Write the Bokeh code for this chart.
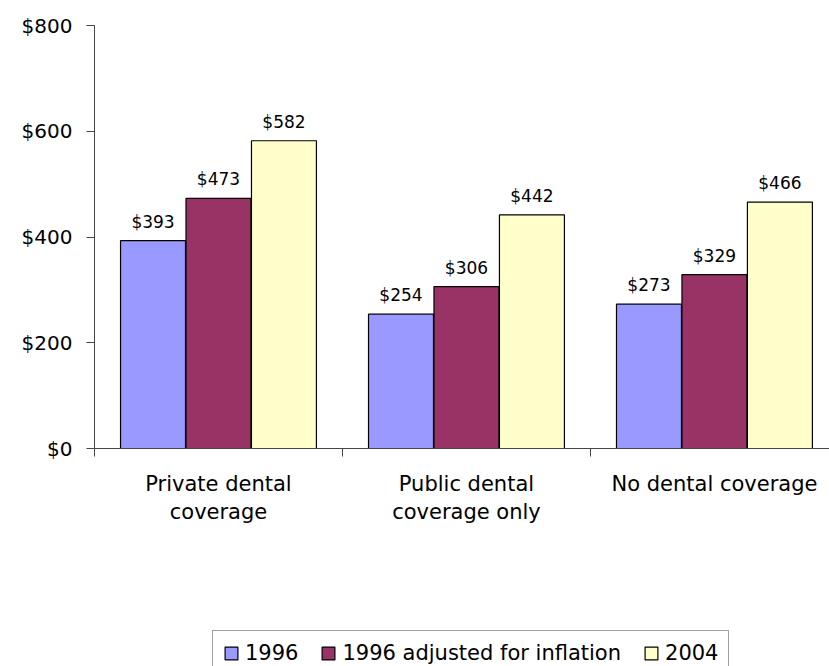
from bokeh.plotting import figure
from bokeh.layouts import column
from bokeh.models import (ColumnDataSource, Range1d, FixedTicker, NumeralTickFormatter,
                          Legend, LegendItem, LabelSet)
from bokeh.core.properties import value
from bokeh.transform import dodge
from bokeh.embed import file_html
from bokeh.resources import INLINE

categories = ["Private dental\ncoverage", "Public dental\ncoverage only", "No dental coverage"]
series_names = ["1996", "1996 adjusted for inflation", "2004"]
values_1996 = [393, 254, 273]
values_1996_adj = [473, 306, 329]
values_2004 = [582, 442, 466]
y_ticks = [0, 200, 400, 600, 800]
colors = ["#9999FF", "#993366", "#FFFFCC"]

FONT = "DejaVu Sans"
AXIS_COLOR = "#444444"

x_pos = [i + 0.5 for i in range(len(categories))]
src = ColumnDataSource(dict(
    x=x_pos,
    v1=values_1996, v2=values_1996_adj, v3=values_2004,
    l1=[f"${v}" for v in values_1996],
    l2=[f"${v}" for v in values_1996_adj],
    l3=[f"${v}" for v in values_2004],
))

p = figure(width=829, height=630,
           x_range=Range1d(0, 2.964), y_range=Range1d(0, 800),
           output_backend="svg", toolbar_location=None,
           min_border_left=94, min_border_right=0, min_border_top=25, min_border_bottom=182)
p.outline_line_color = None
p.xgrid.visible = False
p.ygrid.visible = False

bw = 0.262
off = 0.264
for col, lab, o, c in zip(["v1", "v2", "v3"], ["l1", "l2", "l3"], [-off, 0, off], colors):
    p.vbar(x=dodge("x", o), top=col, width=bw, source=src,
           fill_color=c, line_color="black", line_width=1.2)
    ls = LabelSet(x=dodge("x", o), y=col, text=lab, source=src,
                  text_align="center", text_baseline="alphabetic", y_offset=13,
                  text_font=value(FONT), text_font_size=value("17px"), text_color="black")
    p.add_layout(ls)

# y axis
ya = p.yaxis[0]
ya.ticker = FixedTicker(ticks=y_ticks)
ya.formatter = NumeralTickFormatter(format="$0")
ya.major_label_text_font = FONT
ya.major_label_text_font_size = "20px"
ya.major_label_text_color = "black"
ya.major_tick_out = 8
ya.major_tick_in = 0
ya.minor_tick_out = 0
ya.minor_tick_in = 0
ya.major_label_standoff = 14
ya.axis_line_color = AXIS_COLOR
ya.major_tick_line_color = AXIS_COLOR

# x axis
xa = p.xaxis[0]
xa.ticker = FixedTicker(ticks=x_pos, minor_ticks=[0, 1, 2, 3])
xa.major_label_overrides = {x: c for x, c in zip(x_pos, categories)}
xa.major_label_text_font = FONT
xa.major_label_text_font_size = "21px"
xa.major_label_text_color = "black"
xa.major_tick_out = 0
xa.major_tick_in = 0
xa.minor_tick_out = 8
xa.minor_tick_in = 0
xa.major_label_standoff = 15
xa.axis_line_color = AXIS_COLOR
xa.minor_tick_line_color = AXIS_COLOR

# legend strip (own small figure below the chart; its bars lie far outside its view)
lg = figure(width=829, height=36, x_range=Range1d(0, 2.964), y_range=Range1d(5000, 6000),
            output_backend="svg", toolbar_location=None,
            x_axis_type=None, y_axis_type=None, min_border=0,
            min_border_left=0, min_border_right=0, min_border_top=0, min_border_bottom=0)
lg.outline_line_color = None
lg.xgrid.visible = False
lg.ygrid.visible = False
items = []
for n, col, c in zip(series_names, ["v1", "v2", "v3"], colors):
    r = lg.vbar(x="x", top=col, width=bw, source=src,
                fill_color=c, line_color="black", line_width=1.2)
    items.append(LegendItem(label=n, renderers=[r]))
legend = Legend(items=items, orientation="horizontal", location=(118, -10),
                label_text_font=FONT, label_text_font_size="21px", label_text_color="black",
                glyph_width=16, glyph_height=16, label_standoff=6, spacing=22,
                padding=10, margin=0, border_line_color=AXIS_COLOR, border_line_width=1,
                background_fill_color="white", background_fill_alpha=1.0)
lg.add_layout(legend, "center")

layout = column(p, lg, spacing=0)
open("out.html", "w").write(file_html(layout, INLINE))
